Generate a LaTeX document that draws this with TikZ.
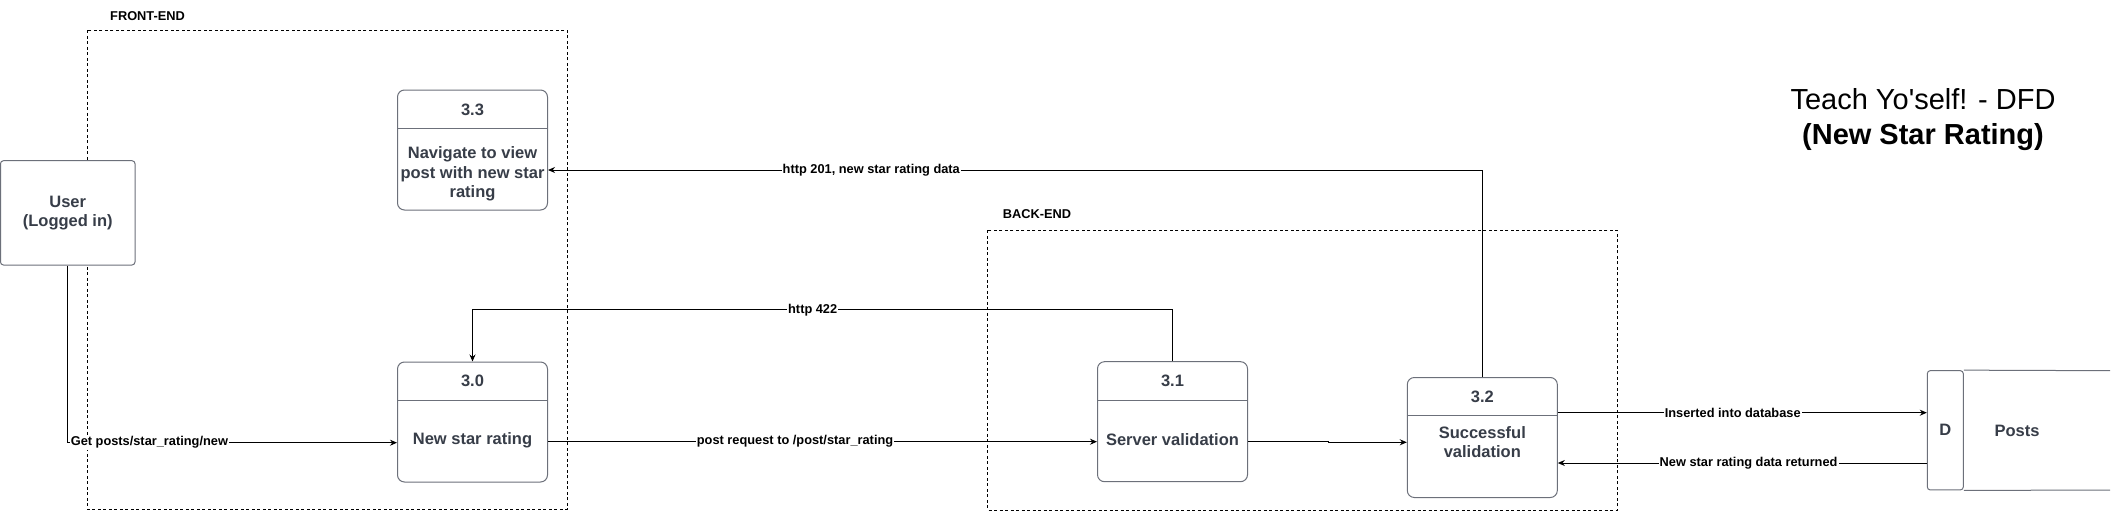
\documentclass[tikz,border=0pt]{standalone}
\usepackage{fontspec}
\setmainfont{Liberation Sans}
\usepackage{tikz}
\usetikzlibrary{arrows.meta,positioning,calc}

\definecolor{boxgray}{RGB}{108,112,122}
\definecolor{boxtext}{RGB}{55,61,72}

\begin{document}
\begin{tikzpicture}[x=1pt, y=-1pt,
        proc/.style={draw=boxgray, fill=white, line width=1pt, rounded corners=7pt, minimum width=150pt, minimum height=120pt, inner sep=0pt},
        proctext/.style={text=boxtext, font=\fontsize{16.5}{19.5}\selectfont\bfseries, align=center, inner sep=0pt},
        flow/.style={draw=black, line width=1pt, -{Stealth[length=7pt,width=6pt]}},
        flowlabel/.style={font=\fontsize{12.8}{15}\selectfont\bfseries, fill=white, inner sep=1pt},
        boundary/.style={draw=black, line width=0.9pt, dash pattern=on 3pt off 2.5pt},
        zonelabel/.style={font=\fontsize{12.8}{15}\selectfont\bfseries, inner sep=0pt, anchor=west}]
        \useasboundingbox (0,0) rectangle (2119,511);

        % Boundaries.
        \draw[boundary] (87.3,30.3) rectangle (567.3,509.3);
        \node[zonelabel] (frontlbl) at (110,16.3) {FRONT-END};
        \draw[boundary] (987.7,230.3) rectangle (1617.3,510);
        \node[zonelabel] (backlbl) at (1002.7,213.7) {BACK-END};

        % Title.
        \node[align=center, inner sep=0pt, font=\fontsize{29}{35}\selectfont] (title) at (1923,120)
            {Teach Yo\textquotesingle self! - DFD\\ \textbf{(New Star Rating)}};

        % External entity.
        \node[draw=boxgray, fill=white, line width=1pt, rounded corners=3pt, minimum width=134.5pt, minimum height=104.3pt, proctext] (user) at (67.75,212.85) {User\\(Logged in)};

        % Processes.
        \node[proc] (p33) at (472.5,150) {};
        \draw[boxgray, line width=1pt] ([yshift=-39pt]p33.north west) -- ([yshift=-39pt]p33.north east);
        \node[proctext] at (472.5,110) {3.3};
        \node[proctext] at (472.5,174) {Navigate to view\\post with new star\\rating};

        \node[proc] (p30) at (472.5,422) {};
        \draw[boxgray, line width=1pt] ([yshift=-38.7pt]p30.north west) -- ([yshift=-38.7pt]p30.north east);
        \node[proctext] at (472.5,380.7) {3.0};
        \node[proctext] at (472.5,440.3) {New star rating};

        \node[proc] (p31) at (1172.5,421.7) {};
        \draw[boxgray, line width=1pt] ([yshift=-39pt]p31.north west) -- ([yshift=-39pt]p31.north east);
        \node[proctext] at (1172.5,380.7) {3.1};
        \node[proctext] at (1172.5,440) {Server validation};

        \node[proc] (p32) at (1482.3,437.5) {};
        \draw[boxgray, line width=1pt] ([yshift=-38.5pt]p32.north west) -- ([yshift=-38.5pt]p32.north east);
        \node[proctext] at (1482.3,396.7) {3.2};
        \node[proctext] at (1482.3,442) {Successful\\validation};

        % Data store.
        \node[draw=boxgray, fill=white, line width=1pt, rounded corners=3pt, minimum width=36pt, minimum height=119.3pt, proctext] (store) at (1945.3,430.3) {D};
        \draw[boxgray, line width=1pt] (store.north east) -- (2110,370.7);
        \draw[boxgray, line width=1pt] (store.south east) -- (2110,490);
        \node[proctext] (posts) at (2017,431) {Posts};

        % Flows.
        \draw[flow] (user.south) |- node[flowlabel, pos=0.624] {Get posts/star\_rating/new} ([yshift=-20.7pt]p30.west);
        \draw[flow] ([yshift=-19.7pt]p30.east) -- node[flowlabel, pos=0.45] {post request to /post/star\_rating} ([yshift=-20pt]p31.west);
        \draw[flow] ([yshift=-19.3pt]p31.east) -- ++(80,0) |- ([yshift=-4.8pt]p32.west);
        \draw[flow] (p31.north) -- ++(0,-51.4) -| node[flowlabel, pos=0.257] {http 422} (p30.north);
        \draw[flow] (p32.north) |- node[flowlabel, pos=0.827] {http 201, new star rating data} ([yshift=-20pt]p33.east);
        \draw[flow] ([yshift=24.8pt]p32.east) -- node[flowlabel, pos=0.474] {Inserted into database} ([yshift=17.6pt]store.west);
        \draw[flow] ([yshift=-32.7pt]store.west) -- node[flowlabel, pos=0.483] {New star rating data returned} ([yshift=-25.5pt]p32.east);

\end{tikzpicture}
\end{document}
